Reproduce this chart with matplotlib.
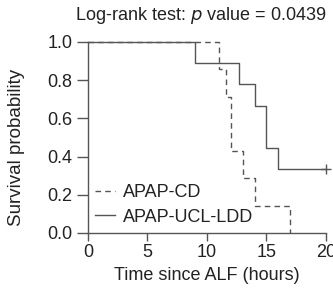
import matplotlib
matplotlib.use("Agg")
from matplotlib import pyplot as plt

plt.rcParams['font.family'] = ['Liberation Sans', 'DejaVu Sans']

# Kaplan-Meier steps
cd_time = [0, 11, 11.6, 12, 13, 14, 17]
cd_surv = [1.0, 0.857, 0.714, 0.429, 0.286, 0.143, 0.0]
ucl_time = [0, 9, 12.7, 14, 15, 16, 20]
ucl_surv = [1.0, 0.889, 0.778, 0.667, 0.444, 0.333, 0.333]
censor_time = [20]
censor_surv = [0.333]

xticks = [0, 5, 10, 15, 20]
yticks = [0.0, 0.2, 0.4, 0.6, 0.8, 1.0]

col = '#555555'
txt = '#222222'
fs = 13
fig = plt.figure(figsize=(3.33, 2.89), dpi=100)
ax = fig.add_axes([0.264, 0.194, 0.715, 0.661])

ax.step(cd_time, cd_surv, where='post', color=col, lw=1.0,
        linestyle=(0, (4, 3)), clip_on=False, label='APAP-CD')
ax.step(ucl_time, ucl_surv, where='post', color=col, lw=1.0,
        clip_on=False, label='APAP-UCL-LDD')
ax.plot(censor_time, censor_surv, '+', color=col, ms=7, mew=1.0, clip_on=False)

ax.set_xlim(0, 20)
ax.set_ylim(0, 1)
ax.set_xticks(xticks)
ax.set_yticks(yticks)
ax.set_yticklabels(['%.1f' % v for v in yticks])
for s in ['top', 'right']:
    ax.spines[s].set_visible(False)
for s in ['left', 'bottom']:
    ax.spines[s].set_color(col)
    ax.spines[s].set_linewidth(1.0)
ax.tick_params(direction='out', width=1.0, color=col,
               labelsize=fs, labelcolor=txt)
ax.tick_params(axis='y', length=8, pad=3)
ax.tick_params(axis='x', length=5.5, pad=2.5)

ax.text(0.5, -0.225, 'Time since ALF (hours)', transform=ax.transAxes,
        fontsize=fs, color=txt, ha='center', va='center')
ax.text(-0.298, 0.445, 'Survival probability', transform=ax.transAxes,
        fontsize=13.5, color=txt, ha='center', va='center', rotation=90)
fig.text(0.225, 0.948, 'Log-rank test: $p$ value = 0.0439', fontsize=fs,
         color=txt, ha='left', va='center')

ax.legend(loc='lower left', bbox_to_anchor=(0, 0), borderaxespad=0,
          frameon=False, fontsize=fs, handlelength=1.1, handletextpad=0.45,
          labelspacing=0.4, labelcolor=txt)

fig.savefig('out.png', dpi=100)
